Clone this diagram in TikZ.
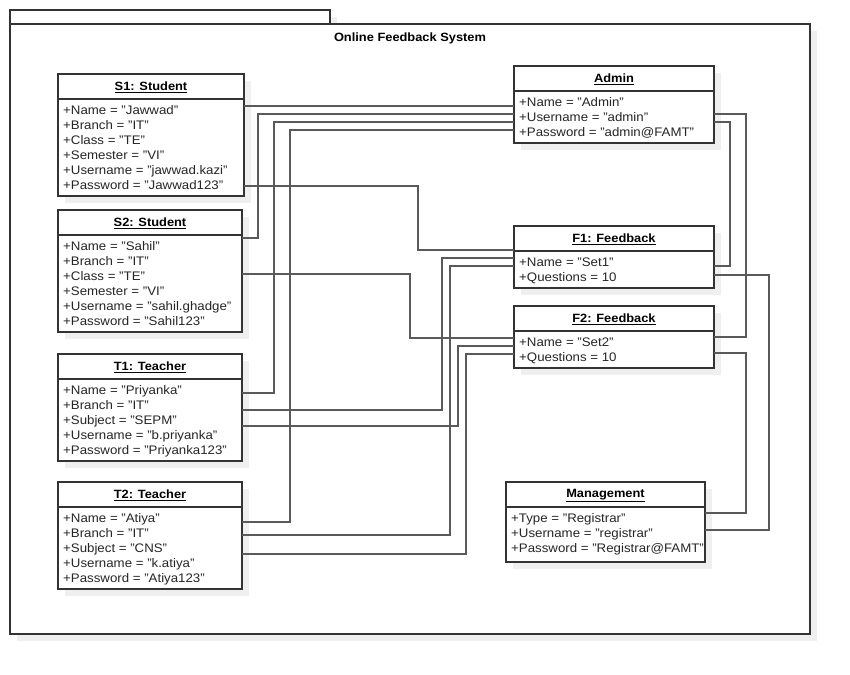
\documentclass[tikz,border=0pt]{standalone}
\usepackage{fontspec}
\setmainfont{Liberation Sans}[FakeStretch=1.07]
\usetikzlibrary{calc}
\definecolor{shadowc}{HTML}{EFEFEF}
\definecolor{linec}{HTML}{5A5A5A}
\definecolor{borderc}{HTML}{333333}
\tikzset{
  objrect/.style={draw=borderc, line width=1.3pt, fill=white, inner sep=0pt, outer sep=0pt},
  divline/.style={draw=borderc, line width=1.2pt},
  conn/.style={draw=linec, line width=1.3pt},
  hdr/.style={font=\fontsize{12}{14}\selectfont\bfseries, inner sep=0pt, text=black},
  attr/.style={font=\fontsize{12.4}{15}\selectfont, inner sep=0pt, text=black!85},
  shade/.style={fill=shadowc},
}
\newcommand{\objbox}[8]{%
  \fill[shade] (#2+7,#3+7) rectangle ++(#4,#5);
  \node[objrect, anchor=north west, minimum width=#4pt, minimum height=#5pt] (#1) at (#2,#3) {};
  \draw[divline] ([yshift=-#6pt]#1.north west) -- ([yshift=-#6pt]#1.north east);
  \node[hdr] (#1t) at ([yshift=-#6pt/2-1pt]#1.north) {\underline{#7}};
  \foreach \aval [count=\i] in {#8} {\node[attr, anchor=base west] (#1a\i) at ([xshift=5pt, yshift=-#6pt-15pt*\i-0.5pt]#1.north west) {\aval};}
}
\begin{document}
\begin{tikzpicture}[x=1pt,y=-1pt]
\useasboundingbox[fill=white] (0,0) rectangle (850,674);
% frame
\fill[shade] (17,17) rectangle (337,31);
\fill[shade] (17,31) rectangle (817,641);
\node[objrect, anchor=north west, minimum width=320pt, minimum height=14pt] (tab) at (10,10) {};
\node[objrect, anchor=north west, minimum width=800pt, minimum height=610pt] (frame) at (10,24) {};
\node[hdr] (title) at (410,38) {Online Feedback System};
% objects
\objbox{s1}{58}{74}{186}{122}{25}{S1: Student}{+Name = "Jawwad", +Branch = "IT", +Class = "TE", +Semester = "VI", +Username = "jawwad.kazi", +Password = "Jawwad123"}
\objbox{s2}{58}{210}{184}{122}{25}{S2: Student}{+Name = "Sahil", +Branch = "IT", +Class = "TE", +Semester = "VI", +Username = "sahil.ghadge", +Password = "Sahil123"}
\objbox{t1}{58}{354}{184}{107}{25}{T1: Teacher}{+Name = "Priyanka", +Branch = "IT", +Subject = "SEPM", +Username = "b.priyanka", +Password = "Priyanka123"}
\objbox{t2}{58}{482}{184}{107}{25}{T2: Teacher}{+Name = "Atiya", +Branch = "IT", +Subject = "CNS", +Username = "k.atiya", +Password = "Atiya123"}
\objbox{adm}{514}{66}{200}{77}{25}{Admin}{+Name = "Admin", +Username = "admin", +Password = "admin@FAMT"}
\objbox{f1}{514}{226}{200}{62}{25}{F1: Feedback}{+Name = "Set1", +Questions = 10}
\objbox{f2}{514}{306}{200}{62}{25}{F2: Feedback}{+Name = "Set2", +Questions = 10}
\objbox{mg}{506}{482}{199}{80}{25}{Management}{+Type = "Registrar", +Username = "registrar", +Password = "Registrar@FAMT"}
% connectors to Admin
\draw[conn] (s1.east |- 0,106) -- (adm.west |- 0,106);
\draw[conn] (s2.east |- 0,238) -- (258,238) |- (adm.west |- 0,114);
\draw[conn] (t1.east |- 0,393) -- (274,393) |- (adm.west |- 0,122);
\draw[conn] (t2.east |- 0,522) -- (290,522) |- (adm.west |- 0,130);
% connectors to F1 / F2
\draw[conn] (s1.east |- 0,186) -- (418,186) |- (f1.west |- 0,250);
\draw[conn] (s2.east |- 0,274) -- (410,274) |- (f2.west |- 0,338);
\draw[conn] (t1.east |- 0,410) -- (442,410) |- (f1.west |- 0,258);
\draw[conn] (t1.east |- 0,426) -- (458,426) |- (f2.west |- 0,346);
\draw[conn] (t2.east |- 0,535) -- (450,535) |- (f1.west |- 0,266);
\draw[conn] (t2.east |- 0,554) -- (466,554) |- (f2.west |- 0,354);
% right side
\draw[conn] (adm.east |- 0,114) -- (746,114) |- (f2.east |- 0,337);
\draw[conn] (adm.east |- 0,122) -- (730,122) |- (f1.east |- 0,266);
\draw[conn] (f1.east |- 0,275) -- (769,275) |- (mg.east |- 0,530);
\draw[conn] (f2.east |- 0,353) -- (746,353) |- (mg.east |- 0,513);
\end{tikzpicture}
\end{document}
